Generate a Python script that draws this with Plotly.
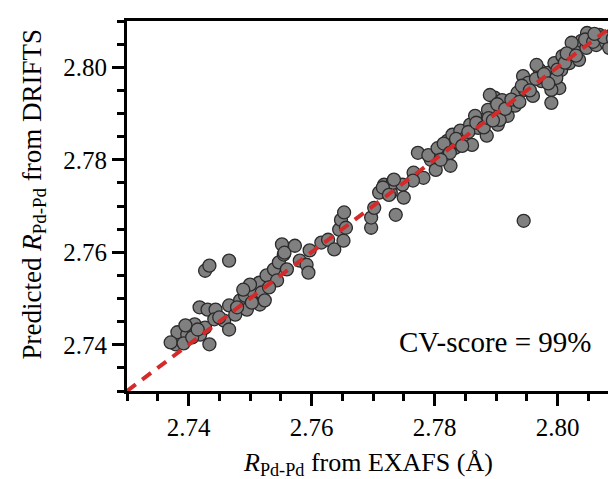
import plotly.graph_objects as go

x_exafs = [
    2.7379, 2.7387, 2.7382, 2.7398, 2.7410, 2.7395, 2.7418, 2.7431, 2.7444, 2.7419,
    2.7427, 2.7434, 2.7442, 2.7458, 2.7466, 2.7466, 2.7476, 2.7484, 2.7492, 2.7495,
    2.7506, 2.7516, 2.7515, 2.7527, 2.7539, 2.7547, 2.7552, 2.7555, 2.7544, 2.7500,
    2.7427, 2.7434, 2.7466,
    2.7371, 2.7392, 2.7406, 2.7415, 2.7450, 2.7479, 2.7503, 2.7489, 2.7519, 2.7531, 2.7524,
    2.7556, 2.7573, 2.7560, 2.7581, 2.7592, 2.7597, 2.7595, 2.7616, 2.7627, 2.7637,
    2.7645, 2.7648, 2.7653, 2.7652, 2.7656, 2.7697, 2.7697, 2.7702, 2.7710, 2.7718,
    2.7729, 2.7737, 2.7732,
    2.7773, 2.7794, 2.7802, 2.7826, 2.7766, 2.7782, 2.7765, 2.7748, 2.7734, 2.7716,
    2.7726, 2.7750, 2.7813, 2.7821, 2.7834, 2.7829, 2.7842, 2.7850, 2.7861, 2.7858,
    2.7871, 2.7877, 2.7885, 2.7894, 2.7898, 2.7906, 2.7903, 2.7839, 2.7866,
    2.7890, 2.7898, 2.7910, 2.7919, 2.7906, 2.7931, 2.7935, 2.7944, 2.7952, 2.7947,
    2.7960, 2.7971, 2.7974, 2.7984, 2.7995, 2.8003, 2.8006, 2.8008, 2.8019, 2.8027,
    2.8035, 2.8039, 2.8047, 2.8055, 2.8063, 2.8068, 2.8079, 2.8087, 2.8084, 2.8095,
    2.8048, 2.8023, 2.7887, 2.7966, 2.7990, 2.7998,
    2.7855, 2.7868, 2.7880, 2.7888, 2.7895, 2.7902, 2.7915, 2.7925, 2.7938, 2.7942,
    2.7955, 2.7965, 2.7978, 2.7985, 2.8000, 2.8012, 2.8015, 2.8030, 2.8045, 2.8058,
    2.8075, 2.8060, 2.8090,
    2.7790, 2.7805, 2.7815, 2.7825, 2.7835, 2.7845, 2.7810,
    2.7990, 2.7945,
]

y_drifts = [
    2.7401, 2.7411, 2.7427, 2.7422, 2.7444, 2.7442, 2.7481, 2.7476, 2.7476, 2.7422,
    2.7437, 2.7401, 2.7455, 2.7452, 2.7433, 2.7485, 2.7465, 2.7496, 2.7506, 2.7476,
    2.7513, 2.7487, 2.7534, 2.7550, 2.7563, 2.7578, 2.7617, 2.7595, 2.7539, 2.7530,
    2.7560, 2.7571, 2.7582,
    2.7405, 2.7403, 2.7416, 2.7433, 2.7459, 2.7481, 2.7491, 2.7519, 2.7513, 2.7524, 2.7496,
    2.7599, 2.7614, 2.7563, 2.7582, 2.7573, 2.7604, 2.7556, 2.7621, 2.7627, 2.7606,
    2.7649, 2.7670, 2.7686, 2.7625, 2.7653, 2.7653, 2.7675, 2.7696, 2.7729, 2.7746,
    2.7729, 2.7681, 2.7750,
    2.7815, 2.7800, 2.7778, 2.7787, 2.7772, 2.7761, 2.7755, 2.7746, 2.7757, 2.7740,
    2.7724, 2.7718, 2.7819, 2.7841, 2.7826, 2.7854, 2.7863, 2.7847, 2.7832, 2.7876,
    2.7869, 2.7886, 2.7852, 2.7901, 2.7934, 2.7912, 2.7876, 2.7837, 2.7895,
    2.7940, 2.7906, 2.7929, 2.7895, 2.7886, 2.7917, 2.7945, 2.7981, 2.7966, 2.7951,
    2.7938, 2.7994, 2.7970, 2.7988, 2.8009, 2.7955, 2.7994, 2.8024, 2.8009, 2.8037,
    2.8016, 2.8057, 2.8042, 2.8068, 2.8048, 2.8070, 2.8053, 2.8068, 2.8042, 2.8048,
    2.8074, 2.8053, 2.7908, 2.8005, 2.7951, 2.7977,
    2.7860, 2.7880, 2.7870, 2.7890, 2.7885, 2.7920, 2.7910, 2.7930, 2.7925, 2.7960,
    2.7950, 2.7975, 2.7985, 2.7965, 2.7995, 2.8010, 2.8030, 2.8025, 2.8060, 2.8055,
    2.8065, 2.8072, 2.8062,
    2.7810, 2.7825, 2.7835, 2.7815, 2.7845, 2.7830, 2.7800,
    2.7923, 2.7668,
]

ideal_line = [2.73, 2.81]
tick_vals = [2.74, 2.76, 2.78, 2.80]
tick_text = ["2.74", "2.76", "2.78", "2.80"]
score_label = "CV-score = 99%"
x_title = "<i>R</i><sub>Pd-Pd</sub> from EXAFS (Å)"
y_title = "Predicted <i>R</i><sub>Pd-Pd</sub> from DRIFTS"

font_family = "Liberation Serif, Times New Roman, serif"

fig = go.Figure()
fig.add_trace(go.Scatter(
    x=x_exafs, y=y_drifts, mode="markers",
    marker=dict(size=13, color="#808080", line=dict(color="#2b2b2b", width=1.3)),
    showlegend=False, hoverinfo="skip",
))
fig.add_trace(go.Scatter(
    x=ideal_line, y=ideal_line, mode="lines",
    line=dict(color="#d42a2a", width=4, dash="11px,8px"),
    showlegend=False, hoverinfo="skip",
))

axis_common = dict(
    range=[2.73, 2.81],
    showgrid=False, zeroline=False,
    showline=True, linecolor="black", linewidth=3, mirror=True,
    ticks="outside", ticklen=12, tickwidth=3, tickcolor="black",
    tickvals=tick_vals, ticktext=tick_text,
    tickfont=dict(family=font_family, size=25, color="black"),
    minor=dict(dtick=0.005, tick0=2.73, ticks="outside", ticklen=7, tickwidth=3,
               tickcolor="black", showgrid=False),
)
fig.update_xaxes(**axis_common)
fig.update_yaxes(**axis_common)

fig.add_annotation(
    x=0.49, y=-0.198, xref="paper", yref="paper",
    text=x_title, showarrow=False,
    font=dict(family=font_family, size=26, color="black"),
    xanchor="center", yanchor="middle",
)
fig.add_annotation(
    x=-0.19, y=0.53, xref="paper", yref="paper",
    text=y_title, showarrow=False, textangle=-90,
    font=dict(family=font_family, size=27, color="black"),
    xanchor="center", yanchor="middle",
)
fig.add_annotation(
    x=0.748, y=0.132, xref="paper", yref="paper",
    text=score_label, showarrow=False,
    font=dict(family=font_family, size=29, color="black"),
    xanchor="center", yanchor="middle",
)

fig.update_layout(
    width=616, height=479,
    margin=dict(l=119, r=2, t=13, b=96),
    plot_bgcolor="white", paper_bgcolor="white",
)

fig.write_html("out.html")
